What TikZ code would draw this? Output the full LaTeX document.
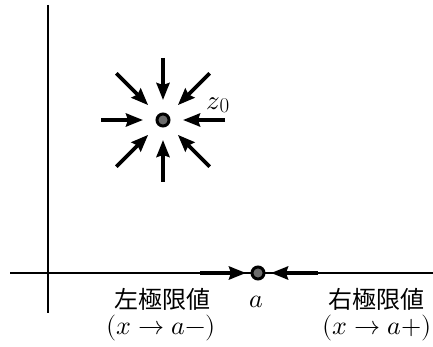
\documentclass[tikz,border=0pt]{standalone}
\usepackage{fontspec}
\usepackage{unicode-math}
\setmathfont{Latin Modern Math}
\newfontfamily\cjk{Noto Sans CJK JP}
\usetikzlibrary{arrows.meta,calc}
\tikzset{
  axis/.style={line width=1.3pt},
  bigarrow/.style={line width=3.6pt,-{Stealth[length=17pt,width=13pt,inset=2pt]}},
  dot/.style={circle,draw=black,fill=black!58,line width=3pt,minimum size=12pt,inner sep=0pt},
  lbl/.style={font=\fontsize{26}{30}\selectfont},
  jlbl/.style={font=\cjk\fontsize{24}{28}\selectfont}
}
\begin{document}
\begin{tikzpicture}[x=1pt,y=-1pt]
\useasboundingbox (0,0) rectangle (433,347);
% axes
\coordinate (xl) at (10,273);
\coordinate (xr) at (433,273);
\coordinate (yt) at (48,5);
\coordinate (yb) at (48,313);
\draw[axis] (xl) -- (xr);
\draw[axis] (yt) -- (yb);
% z0 point with converging arrows
\node[dot] (z0) at (163,120) {};
\foreach \ang in {0,90,180,270}{
  \coordinate (s\ang) at ($(z0)+(\ang:62)$);
  \coordinate (t\ang) at ($(z0)+(\ang:20)$);
  \draw[bigarrow] (s\ang) -- (t\ang);
}
\foreach \ang in {45,135,225,315}{
  \coordinate (s\ang) at ($(z0)+(\ang:66)$);
  \coordinate (t\ang) at ($(z0)+(\ang:21)$);
  \draw[bigarrow] (s\ang) -- (t\ang);
}
\node[anchor=base west,inner sep=0pt,font=\fontsize{27}{30}\selectfont] (z0lbl) at (206,110) {$z$\raisebox{-3pt}{\fontsize{21}{22}\selectfont 0}};
% point a with one-sided arrows
\node[dot] (a) at (258,273) {};
\coordinate (la) at (200,273);
\coordinate (lt) at (246,273);
\coordinate (ra) at (318,273);
\coordinate (rt) at (271,273);
\draw[bigarrow] (la) -- (lt);
\draw[bigarrow] (ra) -- (rt);
% labels
\node[lbl,anchor=base] (alabel) at (256,307) {$a$};
\node[jlbl,anchor=base] (left) at (162,308) {左極限値};
\node[lbl,anchor=base] (leftm) at (161,334) {$(x\to a-)$};
\node[jlbl,anchor=base] (right) at (376,308) {右極限値};
\node[lbl,anchor=base] (rightm) at (377,334) {$(x\to a+)$};
\end{tikzpicture}
\end{document}
